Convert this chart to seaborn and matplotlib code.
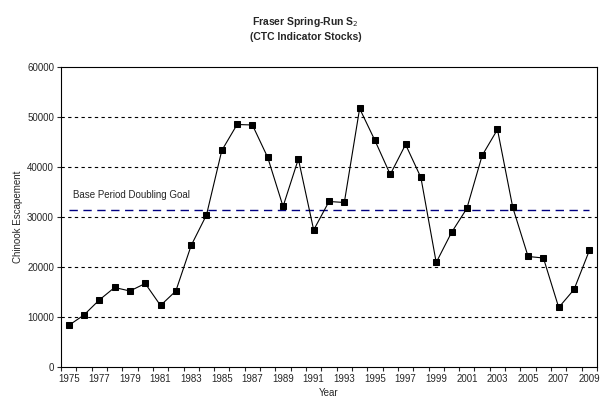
import numpy as np
import pandas as pd
import matplotlib
matplotlib.use("Agg")
import matplotlib.pyplot as plt
import seaborn as sns

# Data
years = list(range(1975, 2010))
escapement = [8300, 10400, 13400, 15900, 15200, 16700, 12300, 15200, 24300, 30400,
              43300, 48500, 48400, 41900, 32100, 41600, 27400, 33100, 32900, 51700,
              45300, 38500, 44500, 37900, 20900, 26900, 31700, 42300, 47500, 31900,
              22100, 21800, 11900, 15500, 23300]
goal = 31300
y_ticks = [0, 10000, 20000, 30000, 40000, 50000, 60000]

df = pd.DataFrame({"Year": years, "Escapement": escapement})

sns.set_style("ticks")
plt.rcParams["font.family"] = ["Liberation Sans", "DejaVu Sans"]

fig = plt.figure(figsize=(6.05, 4.13), dpi=100)
ax = fig.add_axes([0.1008, 0.1114, 0.886, 0.7264])

# gridlines
for v in y_ticks[1:-1]:
    ax.axhline(v, color="black", linestyle=(0, (3, 3)), linewidth=0.8, zorder=1)

# doubling goal
ax.plot([years[0], years[-1]], [goal, goal], color="#000080",
        linestyle=(0, (6, 4)), linewidth=1.0, zorder=2)
ax.text(1975.3, goal + 2000, "Base Period Doubling Goal", fontsize=7, va="bottom")

sns.lineplot(data=df, x="Year", y="Escapement", ax=ax, color="black",
             marker="s", markersize=4.5, linewidth=0.8, markeredgecolor="black", zorder=3)

ax.set_xlim(1974.5, 2009.5)
ax.set_ylim(0, 60000)
ax.set_yticks(y_ticks)
ax.set_yticklabels([str(v) for v in y_ticks], fontsize=7)
ax.set_xticks(years[::2])
ax.set_xticklabels([str(y) for y in years[::2]], fontsize=7)
ax.set_xticks(np.arange(1974.5, 2010, 1), minor=True)
ax.tick_params(axis="x", which="major", length=0, pad=5)
ax.tick_params(axis="x", which="minor", length=3, width=0.8, direction="out")
ax.tick_params(axis="y", length=3, width=0.8, direction="out", pad=2)

for s in ax.spines.values():
    s.set_color("black")
    s.set_linewidth(0.8)

ax.set_xlabel("Year", fontsize=7, labelpad=3)
ax.set_ylabel("Chinook Escapement", fontsize=7, labelpad=3)

fig.text(0.505, 0.947, "Fraser Spring-Run S$_2$", ha="center", va="center",
         fontsize=7.5, fontweight="bold")
fig.text(0.505, 0.91, "(CTC Indicator Stocks)", ha="center", va="center",
         fontsize=7.5, fontweight="bold")

plt.savefig("out.png", dpi=100)
